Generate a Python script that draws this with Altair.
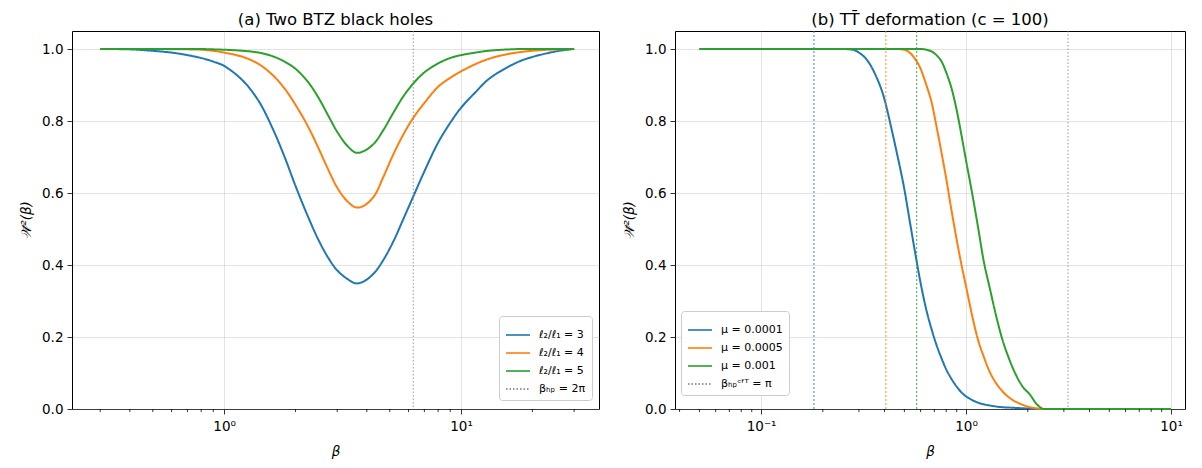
import altair as alt
import pandas as pd

# ---------------- Panel (a): Two BTZ black holes ----------------
beta_a = [0.3, 0.4, 0.5, 0.6, 0.7, 0.8, 0.9, 1.0, 1.2, 1.4, 1.6, 1.8, 2.0, 2.25, 2.5,
          2.75, 3.0, 3.3, 3.6, 3.9, 4.3, 4.7, 5.2, 5.7, 6.3, 7.0, 8.0, 9.0, 10.0, 11.5,
          13.0, 15.0, 18.0, 22.0, 26.0, 30.0]
w_a_3 = [1.0, 0.999, 0.995, 0.99, 0.983, 0.975, 0.965, 0.953, 0.912, 0.855, 0.78, 0.70,
         0.62, 0.537, 0.47, 0.42, 0.385, 0.362, 0.349, 0.355, 0.378, 0.414, 0.468, 0.527,
         0.592, 0.66, 0.74, 0.795, 0.837, 0.88, 0.915, 0.942, 0.968, 0.985, 0.995, 1.0]
w_a_4 = [1.0, 1.0, 1.0, 0.9995, 0.999, 0.998, 0.995, 0.99, 0.978, 0.958, 0.928, 0.89,
         0.845, 0.787, 0.725, 0.665, 0.615, 0.578, 0.56, 0.565, 0.592, 0.645, 0.71, 0.762,
         0.81, 0.85, 0.895, 0.92, 0.938, 0.958, 0.972, 0.983, 0.992, 0.997, 0.999, 1.0]
w_a_5 = [1.0, 1.0, 1.0, 1.0, 1.0, 1.0, 0.999, 0.998, 0.995, 0.99, 0.98, 0.965, 0.945,
         0.91, 0.865, 0.815, 0.77, 0.732, 0.712, 0.717, 0.738, 0.775, 0.825, 0.868, 0.905,
         0.935, 0.96, 0.975, 0.983, 0.99, 0.995, 0.998, 1.0, 1.0, 1.0, 1.0]
labels_a = ["ℓ₂/ℓ₁ = 3", "ℓ₂/ℓ₁ = 4", "ℓ₂/ℓ₁ = 5"]
hp_label_a = "βₕₚ = 2π"
beta_hp_a = [6.2832]
minor_a = [0.3, 0.4, 0.5, 0.6, 0.7, 0.8, 0.9, 2, 3, 4, 5, 6, 7, 8, 9, 20, 30]
major_a = [1, 10]

# ---------------- Panel (b): TTbar deformation ----------------
beta_b = [0.05, 0.1, 0.2, 0.25, 0.28, 0.3, 0.33, 0.36, 0.4, 0.43, 0.46, 0.5, 0.53, 0.56,
          0.6, 0.64, 0.68, 0.72, 0.76, 0.8, 0.85, 0.9, 0.95, 1.0, 1.07, 1.14, 1.22, 1.3,
          1.4, 1.5, 1.62, 1.75, 1.9, 2.05, 2.2, 2.4, 2.7, 3.0, 4.0, 6.0, 10.0]
w_b_1 = [1.0, 1.0, 1.0, 1.0, 0.998, 0.99, 0.968, 0.93, 0.86, 0.785, 0.71, 0.61, 0.525,
         0.445, 0.35, 0.275, 0.22, 0.175, 0.14, 0.11, 0.083, 0.062, 0.046, 0.035, 0.025,
         0.018, 0.013, 0.01, 0.007, 0.005, 0.004, 0.003, 0.002, 0.001, 0.0, 0.0, 0.0, 0.0,
         0.0, 0.0, 0.0]
w_b_2 = [1.0, 1.0, 1.0, 1.0, 1.0, 1.0, 1.0, 1.0, 1.0, 1.0, 1.0, 0.998, 0.99, 0.975, 0.945,
         0.90, 0.85, 0.78, 0.71, 0.64, 0.55, 0.47, 0.40, 0.34, 0.26, 0.195, 0.145, 0.105,
         0.072, 0.05, 0.032, 0.02, 0.011, 0.005, 0.002, 0.0, 0.0, 0.0, 0.0, 0.0, 0.0]
w_b_3 = [1.0, 1.0, 1.0, 1.0, 1.0, 1.0, 1.0, 1.0, 1.0, 1.0, 1.0, 1.0, 1.0, 1.0, 1.0,
         0.998, 0.993, 0.982, 0.965, 0.935, 0.89, 0.83, 0.76, 0.69, 0.60, 0.51, 0.41, 0.34,
         0.26, 0.195, 0.14, 0.095, 0.06, 0.04, 0.015, 0.0, 0.0, 0.0, 0.0, 0.0, 0.0]
labels_b = ["μ = 0.0001", "μ = 0.0005", "μ = 0.001"]
hp_label_b = "βₕₚᶜᶠᵀ = π"
beta_hp_b = [3.1416]
beta_mu_b = [0.181, 0.406, 0.574]
minor_b = [0.04, 0.05, 0.06, 0.07, 0.08, 0.09, 0.2, 0.3, 0.4, 0.5, 0.6, 0.7, 0.8, 0.9,
           2, 3, 4, 5, 6, 7, 8, 9]
major_b = [0.1, 1, 10]

colors = ["#1f77b4", "#ff7f0e", "#2ca02c", "#7f7f7f"]
dashes = [[1, 0], [1, 0], [1, 0], [1.5, 2]]

H = 378
FONT = "DejaVu Sans"


def long_df(beta, series, labels):
    rows = []
    for vals, lab in zip(series, labels):
        for b, w in zip(beta, vals):
            rows.append({"b": b, "w": w, "s": lab})
    return pd.DataFrame(rows)


def panel(df_lines, hp_beta, hp_label, mu_beta, mu_labels, minor, major, xdom,
          width, title, lx, ly, interp):
    domain = list(mu_labels) + [hp_label]
    leg = alt.Legend(title=None, orient="none", legendX=lx, legendY=ly,
                     symbolType="stroke", symbolSize=576, symbolStrokeWidth=2,
                     labelFontSize=11, labelFont=FONT, labelOffset=8,
                     rowPadding=0, padding=6, fillColor="white", strokeColor="#cccccc",
                     cornerRadius=3, labelLimit=200)
    color = alt.Color("s:N", scale=alt.Scale(domain=domain, range=colors), legend=leg)
    dash = alt.StrokeDash("s:N", scale=alt.Scale(domain=domain, range=dashes), legend=leg)
    x = alt.X("b:Q",
              scale=alt.Scale(type="log", domain=xdom, nice=False),
              axis=alt.Axis(values=major, title="β", titleFontStyle="italic",
                            labelExpr="datum.value < 0.5 ? '10⁻¹' : datum.value < 5 ? '10⁰' : '10¹'",
                            grid=True, tickSize=5, labelPadding=5, titlePadding=12))
    y = alt.Y("w:Q",
              scale=alt.Scale(domain=[0, 1.05], nice=False, zero=False),
              axis=alt.Axis(values=[0, 0.2, 0.4, 0.6, 0.8, 1.0], format=".1f",
                            title="𝒲̃²(β)", titleFontStyle="italic",
                            grid=True, tickSize=5, labelPadding=4, titlePadding=8))

    lines = alt.Chart(df_lines).mark_line(strokeWidth=2, interpolate=interp).encode(
        x=x, y=y, color=color, strokeDash=dash)
    hp = alt.Chart(pd.DataFrame({"b": hp_beta, "s": [hp_label] * len(hp_beta)})).mark_rule(
        strokeWidth=1, opacity=0.8).encode(x="b:Q", color=color, strokeDash=dash)
    layers = [lines, hp]
    if mu_beta:
        mu = alt.Chart(pd.DataFrame({"b": mu_beta, "s": list(mu_labels)})).mark_rule(
            strokeWidth=1.1, opacity=0.8, strokeDash=[2, 2]).encode(x="b:Q", color=color)
        layers.append(mu)
    ticks = alt.Chart(pd.DataFrame({"b": minor})).mark_rule(
        color="black", strokeWidth=0.8).encode(
        x="b:Q", y=alt.value(H), y2=alt.value(H + 3))
    layers.append(ticks)
    return alt.layer(*layers).properties(
        width=width, height=H,
        title=alt.Title(title, fontSize=16.5, font=FONT, fontWeight="normal", offset=2))


df_a = long_df(beta_a, [w_a_3, w_a_4, w_a_5], labels_a)
df_b = long_df(beta_b, [w_b_1, w_b_2, w_b_3], labels_b)

pa = panel(df_a, beta_hp_a, hp_label_a, [], labels_a, minor_a, major_a, [0.228, 38.2],
           527, "(a) Two BTZ black holes", 427, 285, "catmull-rom")
pb = panel(df_b, beta_hp_b, hp_label_b, beta_mu_b, labels_b, minor_b, major_b,
           [0.038, 11.7], 510, "(b) TT̄ deformation (c = 100)", 6, 280, "monotone")

chart = alt.hconcat(pa, pb, spacing=22).resolve_scale(
    color="independent", strokeDash="independent", x="independent", y="independent"
).properties(padding={"left": 11, "top": 3, "right": 0, "bottom": 0}).configure_view(
    stroke="black", strokeWidth=1
).configure_axis(
    labelFont=FONT, titleFont=FONT, labelFontSize=13.5, titleFontSize=13.5,
    labelColor="black", titleColor="black", tickColor="black", tickWidth=0.8,
    domain=False, gridColor="#b0b0b0", gridOpacity=0.35, titleFontWeight="normal"
)

chart.save("out.html", embed_options={"renderer": "svg", "actions": False})
